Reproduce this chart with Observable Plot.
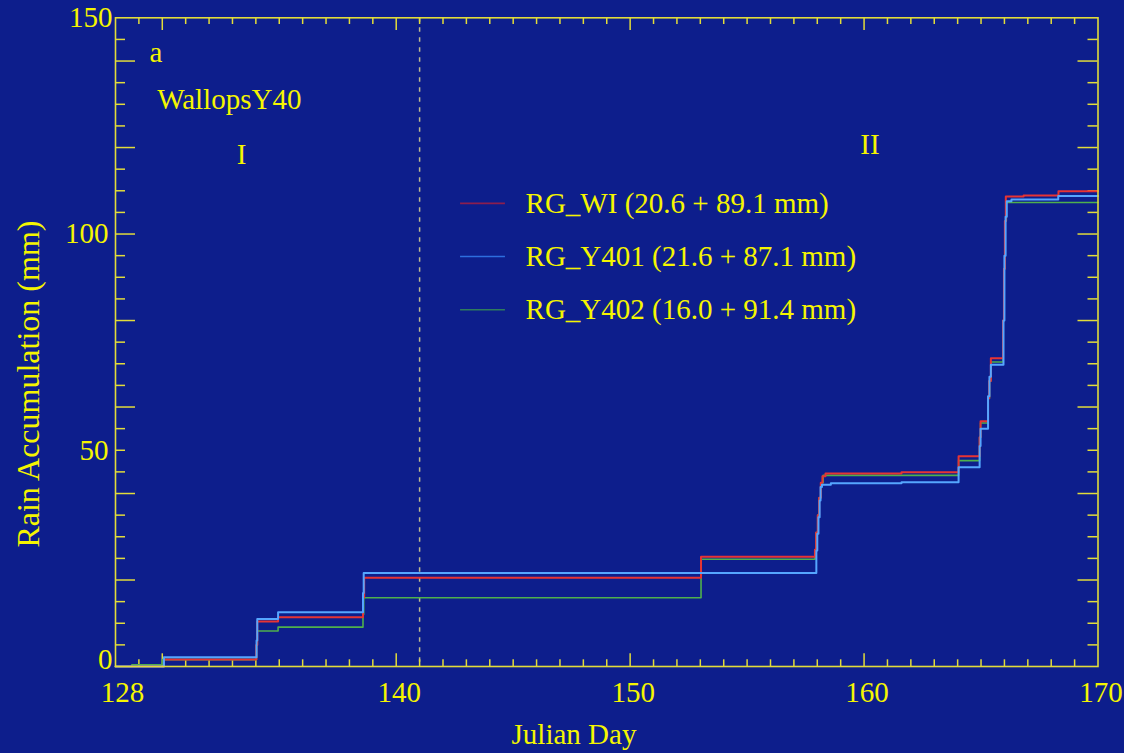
<!DOCTYPE html>
<html>
<head>
<meta charset="utf-8">
<script src="https://cdn.jsdelivr.net/npm/d3@7"></script>
<script src="https://cdn.jsdelivr.net/npm/@observablehq/plot@0.6"></script>
<style>
  html, body { margin: 0; padding: 0; background: #0d1e8c; }
  #chart svg { display: block; }
</style>
</head>
<body>
<div id="chart"></div>
<script>
// ---------------- DATA ----------------
const seriesNames = ["RG_WI", "RG_Y401", "RG_Y402"];
const legendLabels = [
  "RG_WI (20.6 + 89.1 mm)",
  "RG_Y401 (21.6 + 87.1 mm)",
  "RG_Y402 (16.0 + 91.4 mm)"
];
const seriesColors = ["#e63434", "#55a6ff", "#4fb04c"];
const legendColors = ["#8c1e4e", "#2d6ede", "#2f7c5c"];

// [julian day, accumulated rain (mm)] - step-after
const rgWI = [
  [128.0, 0], [130.07, 1.6], [134.02, 5.0], [134.06, 10.4], [134.95, 11.4],
  [138.58, 16.0], [138.63, 20.5], [153.03, 25.4], [157.9, 27.0], [157.95, 31.0],
  [158.02, 35.0], [158.08, 39.0], [158.15, 42.5], [158.22, 44.0], [158.35, 44.6],
  [161.6, 44.9], [164.04, 48.6], [164.94, 53.0], [164.98, 56.7], [165.3, 62.0],
  [165.35, 66.0], [165.42, 71.3], [165.94, 80.0], [165.98, 92.0], [166.02, 103.0],
  [166.06, 108.7], [166.82, 108.9], [168.31, 109.9], [170.0, 109.9]
];
const rgY401 = [
  [128.0, 0], [130.07, 2.15], [134.03, 6.0], [134.06, 11.0], [134.95, 12.55],
  [138.58, 17.0], [138.61, 21.6], [157.96, 26.8], [158.0, 30.7], [158.05, 34.5],
  [158.1, 38.4], [158.14, 41.5], [158.2, 42.0], [158.58, 42.4], [161.6, 42.6],
  [164.04, 46.1], [164.94, 51.0], [164.98, 55.0], [165.3, 62.5], [165.36, 67.0],
  [165.42, 69.8], [165.96, 80.0], [166.0, 95.0], [166.05, 104.0], [166.1, 107.6],
  [166.3, 108.0], [168.3, 108.8], [170.0, 108.8]
];
const rgY402 = [
  [128.0, 0], [128.7, 0.4], [130.0, 1.6], [134.03, 5.0], [134.06, 8.2],
  [134.95, 9.1], [138.58, 12.0], [138.61, 15.9], [153.03, 24.8], [157.9, 27.0],
  [157.95, 31.0], [158.02, 35.0], [158.08, 39.0], [158.15, 42.5], [158.25, 44.2],
  [164.04, 47.6], [164.94, 53.0], [164.98, 56.3], [165.3, 62.0], [165.36, 66.0],
  [165.42, 70.4], [165.94, 80.0], [165.98, 92.0], [166.02, 103.0], [166.08, 107.3],
  [170.0, 107.3]
];

// Axes / ticks
const xDomain = [128, 170];
const yDomain = [0, 150];
const xLabelTicks = [128, 140, 150, 160, 170];
const xMajorTicks = [130, 140, 150, 160];
const xMinorTicks = d3.range(129, 170).filter(d => !xMajorTicks.includes(d));
const yLabelTicks = [0, 50, 100, 150];
const yMajorTicks = [20, 40, 60, 80, 100, 120, 140];
const yMinorTicks = d3.range(5, 150, 5).filter(d => !yMajorTicks.includes(d));

// Annotations
const annotations = [
  {text: "a", day: 129.45, mm: 139.7, anchor: "start"},
  {text: "WallopsY40", day: 129.78, mm: 128.9, anchor: "start"},
  {text: "I", day: 133.39, mm: 116.2, anchor: "middle"},
  {text: "II", day: 160.25, mm: 118.4, anchor: "middle"}
];
const periodDivider = [141];
const legendLineDays = [142.75, 144.67];
const legendTextDay = 145.53;
const legendRowsMM = [107.1, 94.8, 82.5];

// ---------------- LAYOUT ----------------
const W = 1124, H = 753;
const mL = 115, mR = 26.5, mT = 17.3, mB = 87;
const plotW = W - mL - mR, plotH = H - mT - mB;
const pxToDay = (xDomain[1] - xDomain[0]) / plotW;
const pxToMM = (yDomain[1] - yDomain[0]) / plotH;

const yellow = "#f5f500";
const axisCol = "#e2dc3a";
const font = "'Liberation Serif', 'Times New Roman', serif";

const toObjs = (arr, name) => arr.map(([day, mm]) => ({day, mm, name}));

const xMajLen = 12.7 * pxToMM, xMinLen = 6.7 * pxToMM;
const yMajLen = 20 * pxToDay, yMinLen = 10 * pxToDay;

const legendRows = seriesNames.map((n, i) => ({
  name: n, label: legendLabels[i], mm: legendRowsMM[i], color: legendColors[i]
}));

const chart = Plot.plot({
  width: W, height: H,
  marginLeft: mL, marginRight: mR, marginTop: mT, marginBottom: mB,
  x: {domain: xDomain},
  y: {domain: yDomain},
  style: {background: "#0d1e8c", color: yellow, fontFamily: font, fontSize: "29px"},
  marks: [
    // dashed divider
    Plot.ruleX(periodDivider, {x: d => d, stroke: "#bdb98e", strokeWidth: 1.5, strokeDasharray: "4.5,5.5"}),
    // ticks bottom / top
    Plot.ruleX(xMinorTicks, {x: d => d, y1: 0, y2: xMinLen, stroke: axisCol, strokeWidth: 1.5}),
    Plot.ruleX(xMajorTicks, {x: d => d, y1: 0, y2: xMajLen, stroke: axisCol, strokeWidth: 1.5}),
    Plot.ruleX(xMinorTicks, {x: d => d, y1: 150 - xMinLen, y2: 150, stroke: axisCol, strokeWidth: 1.5}),
    Plot.ruleX(xMajorTicks, {x: d => d, y1: 150 - xMajLen, y2: 150, stroke: axisCol, strokeWidth: 1.5}),
    // ticks left / right
    Plot.ruleY(yMinorTicks, {y: d => d, x1: 128, x2: 128 + yMinLen, stroke: axisCol, strokeWidth: 1.5}),
    Plot.ruleY(yMajorTicks, {y: d => d, x1: 128, x2: 128 + yMajLen, stroke: axisCol, strokeWidth: 1.5}),
    Plot.ruleY(yMinorTicks, {y: d => d, x1: 170 - yMinLen, x2: 170, stroke: axisCol, strokeWidth: 1.5}),
    Plot.ruleY(yMajorTicks, {y: d => d, x1: 170 - yMajLen, x2: 170, stroke: axisCol, strokeWidth: 1.5}),
    // series
    Plot.line(toObjs(rgY402, seriesNames[2]), {x: "day", y: "mm", curve: "step-after", stroke: seriesColors[2], strokeWidth: 1.6}),
    Plot.line(toObjs(rgWI, seriesNames[0]), {x: "day", y: "mm", curve: "step-after", stroke: seriesColors[0], strokeWidth: 2}),
    Plot.line(toObjs(rgY401, seriesNames[1]), {x: "day", y: "mm", curve: "step-after", stroke: seriesColors[1], strokeWidth: 2}),
    // frame
    Plot.frame({stroke: axisCol, strokeWidth: 1.6}),
    // axis labels
    Plot.axisX([xLabelTicks[0]], {tickSize: 0, tickPadding: 15, dx: 7, label: null, fill: yellow}),
    Plot.axisX(xLabelTicks.slice(1), {tickSize: 0, tickPadding: 15, dx: 3, label: null, fill: yellow}),
    Plot.axisY([yLabelTicks[0]], {tickSize: 0, tickPadding: 3, dy: -7, label: null, fill: yellow}),
    Plot.axisY([yLabelTicks[1], yLabelTicks[2]], {tickSize: 0, tickPadding: 7, label: null, fill: yellow}),
    Plot.axisY([yLabelTicks[3]], {tickSize: 0, tickPadding: 3, label: null, fill: yellow}),
    // axis titles
    Plot.text(["Julian Day"], {x: 147.6, frameAnchor: "bottom", dy: 77, lineAnchor: "bottom", text: d => d, fill: yellow, fontSize: 29}),
    Plot.text(["Rain Accumulation (mm)"], {y: 65.3, frameAnchor: "left", dx: -87, rotate: -90, textAnchor: "middle", text: d => d, fill: yellow, fontSize: 32}),
    // annotations
    Plot.text(annotations.filter(a => a.anchor === "start"), {x: "day", y: "mm", text: "text", textAnchor: "start", lineAnchor: "bottom", fill: yellow}),
    Plot.text(annotations.filter(a => a.anchor === "middle"), {x: "day", y: "mm", text: "text", textAnchor: "middle", lineAnchor: "bottom", fill: yellow}),
    // legend
    Plot.ruleY(legendRows, {y: "mm", x1: legendLineDays[0], x2: legendLineDays[1], stroke: "color", strokeWidth: 1.6}),
    Plot.text(legendRows, {x: legendTextDay, y: "mm", text: "label", textAnchor: "start", lineAnchor: "middle", fill: yellow})
  ]
});
document.getElementById("chart").appendChild(chart);
</script>
</body>
</html>
